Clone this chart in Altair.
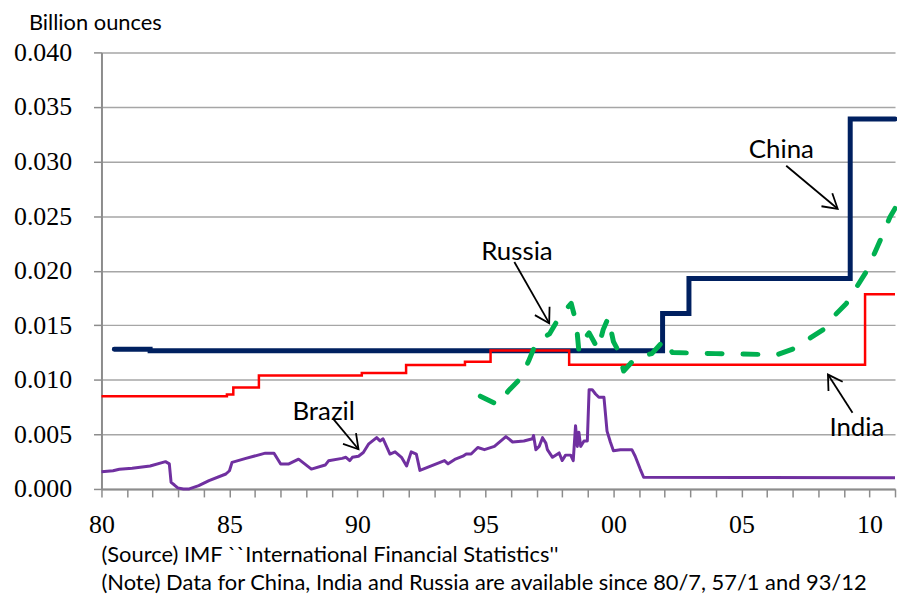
import math
import altair as alt
import pandas as pd

# ---------------- data ----------------
china_year = [1980.5, 1981.9, 2001.92, 2002.95, 2009.25, 2011.0]
china_val = [0.0128, 0.01267, 0.01608, 0.01929, 0.03389, 0.03389]

india_year = [1980.0, 1984.9, 1985.15, 1986.15, 1990.17, 1991.9, 1994.2, 1995.2,
              1998.27, 2009.83, 2011.0]
india_val = [0.0085, 0.00865, 0.0093, 0.01039, 0.01063, 0.01136, 0.01166, 0.01269,
             0.01139, 0.01783, 0.01783]

russia_year = [1994.8, 1995.5, 1995.9, 1996.4, 1996.7, 1997.0, 1997.5, 1997.9, 1998.35,
               1998.55, 1998.65, 1998.85, 1999.05, 1999.4, 1999.6, 1999.8, 2000.0,
               2000.2, 2000.4, 2000.9, 2001.5, 2002.0, 2002.3, 2004.0, 2006.4, 2007.1,
               2007.6, 2008.2, 2008.6, 2009.1, 2009.5, 2009.9, 2010.2, 2010.5, 2010.8,
               2011.0]
russia_val = [0.0085, 0.0077, 0.0090, 0.0102, 0.0118, 0.0135, 0.0142, 0.0158, 0.0170,
              0.0152, 0.0126, 0.0137, 0.0143, 0.0128, 0.0146, 0.0157, 0.0135,
              0.0126, 0.0108, 0.0121, 0.0124, 0.0137, 0.0125, 0.0124, 0.0123, 0.0129,
              0.0137, 0.0146, 0.0158, 0.0170, 0.0185, 0.0200, 0.0216, 0.0232, 0.0249,
              0.0257]

brazil_year = [1980.0, 1980.45, 1980.7, 1981.2, 1981.9, 1982.4, 1982.5, 1982.65, 1982.72,
               1982.85, 1982.98, 1983.2, 1983.43, 1983.8, 1984.2, 1984.86, 1985.0,
               1985.1, 1985.64, 1986.4, 1986.74, 1987.0, 1987.3, 1987.7, 1988.2,
               1988.74, 1988.87, 1989.4, 1989.55, 1989.7, 1989.8, 1990.04, 1990.23,
               1990.43, 1990.75, 1990.88, 1991.0, 1991.27, 1991.47, 1991.72, 1991.92,
               1992.1, 1992.3, 1992.44, 1992.76, 1993.08, 1993.4, 1993.54, 1993.8,
               1994.12, 1994.25, 1994.44, 1994.7, 1994.96, 1995.35, 1995.8, 1996.06,
               1996.5, 1996.84, 1996.88, 1996.97, 1997.1, 1997.23, 1997.36, 1997.42,
               1997.62, 1997.88, 1998.0, 1998.13, 1998.33, 1998.43, 1998.52, 1998.59,
               1998.65, 1998.72, 1998.85, 1998.98, 1999.05, 1999.17, 1999.3, 1999.43,
               1999.63, 1999.75, 1999.88, 2000.0, 2000.27, 2000.72, 2000.85, 2001.05,
               2001.18, 2005.0, 2011.0]
brazil_val = [0.00158, 0.00167, 0.0018, 0.0019, 0.0021, 0.00243, 0.0025, 0.0023, 0.0006,
              0.00036, 0.0001, 0.0, 0.0, 0.0003, 0.00076, 0.00137, 0.00167,
              0.00243, 0.0028, 0.00328, 0.00328, 0.00228, 0.00228, 0.00273, 0.00182,
              0.00219, 0.00258, 0.0028, 0.0029, 0.0026, 0.0029, 0.0030, 0.00334,
              0.0041, 0.0047, 0.0044, 0.0046, 0.0032, 0.0034, 0.0029, 0.0021,
              0.0034, 0.0032, 0.0017, 0.0020, 0.0023, 0.0026, 0.0023, 0.0027,
              0.0030, 0.0032, 0.0032, 0.0038, 0.0036, 0.0039, 0.0048, 0.0043,
              0.0044, 0.0046, 0.0049, 0.0036, 0.0039, 0.0047, 0.0042, 0.0036,
              0.0029, 0.0033, 0.0026, 0.0031, 0.0031, 0.0026, 0.0058, 0.0039,
              0.0052, 0.0039, 0.0044, 0.0044, 0.0091, 0.0091, 0.0087, 0.0084,
              0.0084, 0.0053, 0.0043, 0.0035, 0.0036, 0.0036, 0.0030, 0.0018,
              0.00107, 0.00105, 0.00102]

label_text = ["China", "Russia", "Brazil", "India"]
label_year = [2006.56, 1996.23, 1988.68, 2009.51]
label_val = [0.03037, 0.02096, 0.00629, 0.00483]
arrow_tail_year = [2006.75, 1996.13, 1989.07, 2009.34]
arrow_tail_val = [0.02961, 0.0208, 0.00638, 0.00699]
arrow_tip_year = [2008.76, 1997.49, 1990.04, 2008.38]
arrow_tip_val = [0.02567, 0.01519, 0.00364, 0.01048]

x_ticks = list(range(1980, 2012))
y_ticks = [0.0, 0.005, 0.01, 0.015, 0.02, 0.025, 0.03, 0.035, 0.04]

y_title = "Billion ounces"
source_line = "(Source) IMF ``International Financial Statistics''"
note_line = "(Note) Data for China, India and Russia are available since 80/7, 57/1 and 93/12"

# ---------------- layout ----------------
W, H = 798, 439
X_DOM = [1980, 2011]
Y_DOM = [0.0, 0.04]
px_year = W / (X_DOM[1] - X_DOM[0])
px_val = H / (Y_DOM[1] - Y_DOM[0])

china = pd.DataFrame({"year": china_year, "val": china_val})
india = pd.DataFrame({"year": india_year, "val": india_val})
russia = pd.DataFrame({"year": russia_year, "val": russia_val})
brazil = pd.DataFrame({"year": brazil_year, "val": brazil_val})

angles = []
for ty, tv, hy, hv in zip(arrow_tail_year, arrow_tail_val, arrow_tip_year, arrow_tip_val):
    dx = (hy - ty) * px_year
    dy = -(hv - tv) * px_val
    angles.append(math.degrees(math.atan2(dy, dx)) % 360)

labels = pd.DataFrame({"text": label_text, "year": label_year, "val": label_val})
arrows = pd.DataFrame({
    "y0": arrow_tail_year, "v0": arrow_tail_val,
    "y1": arrow_tip_year, "v1": arrow_tip_val, "angle": angles,
})

xs = alt.Scale(domain=X_DOM, nice=False, zero=False)
ys = alt.Scale(domain=Y_DOM, nice=False)

x_axis = alt.Axis(values=x_ticks,
                  labelExpr="datum.value % 5 == 0 ? format(datum.value % 100, '02d') : ''",
                  grid=False, tickSize=8, labelPadding=15, title=None, labelFlush=False,
                  labelOverlap=False)
y_axis = alt.Axis(values=y_ticks, format=".3f", grid=True, tickSize=8, labelPadding=22,
                  title=y_title, titleAngle=0, titleAlign="left", titleBaseline="alphabetic",
                  titleX=-73.5, titleY=-23.5, titleFont="Lato", titleFontSize=22,
                  titleFontWeight="normal", titleColor="black", labelBaseline="middle",
                  labelOverlap=False)

X = alt.X("year:Q", scale=xs, axis=x_axis)
Y = alt.Y("val:Q", scale=ys, axis=y_axis)

china_line = alt.Chart(china).mark_line(color="#002060", strokeWidth=5, interpolate="step-after",
                                        strokeCap="round", strokeJoin="miter").encode(x=X, y=Y)
india_line = alt.Chart(india).mark_line(color="#FF0000", strokeWidth=2.5,
                                        interpolate="step-after").encode(x=X, y=Y)
brazil_line = alt.Chart(brazil).mark_line(color="#7030A0", strokeWidth=3,
                                          strokeJoin="round").encode(x=X, y=Y)
russia_line = alt.Chart(russia).mark_line(color="#00B050", strokeWidth=5, strokeDash=[15, 21],
                                          strokeCap="round", strokeJoin="round").encode(x=X, y=Y)

arrow_lines = alt.Chart(arrows).mark_rule(color="black", strokeWidth=1.8).encode(
    x=alt.X("y0:Q", scale=xs, axis=x_axis), y=alt.Y("v0:Q", scale=ys, axis=y_axis),
    x2="y1:Q", y2="v1:Q")
arrow_heads = alt.Chart(arrows).mark_point(
    shape="M -1 -0.6 L 0 0 L -1 0.6", filled=False, stroke="black", strokeWidth=1.8,
    size=800, opacity=1).encode(
    x=alt.X("y1:Q", scale=xs, axis=x_axis), y=alt.Y("v1:Q", scale=ys, axis=y_axis),
    angle=alt.Angle("angle:Q", scale=None))
label_marks = alt.Chart(labels).mark_text(font="Lato", fontSize=26, color="black", align="center",
                                          baseline="alphabetic").encode(
    x=X, y=Y, text="text:N")

chart = alt.layer(china_line, india_line, brazil_line, russia_line, arrow_lines, arrow_heads,
                  label_marks).properties(
    width=W, height=H,
    autosize=alt.AutoSizeParams(type="none"),
    padding={"left": 94, "top": 43, "right": 2, "bottom": 108},
    title=alt.TitleParams(text=[source_line, note_line], orient="bottom", anchor="start",
                          frame="group", font="Lato", fontSize=22, fontWeight="normal",
                          color="black", lineHeight=29, offset=7),
).configure_view(strokeWidth=0).configure_axis(
    labelFont="Liberation Serif", labelFontSize=26, labelColor="black",
    domainColor="#8c8c8c", tickColor="#8c8c8c", gridColor="#a6a6a6",
    domainWidth=2, tickWidth=1.5, gridWidth=1.5, labelOverlap=False,
)

chart.save("out.html", embed_options={"renderer": "svg", "actions": False})
